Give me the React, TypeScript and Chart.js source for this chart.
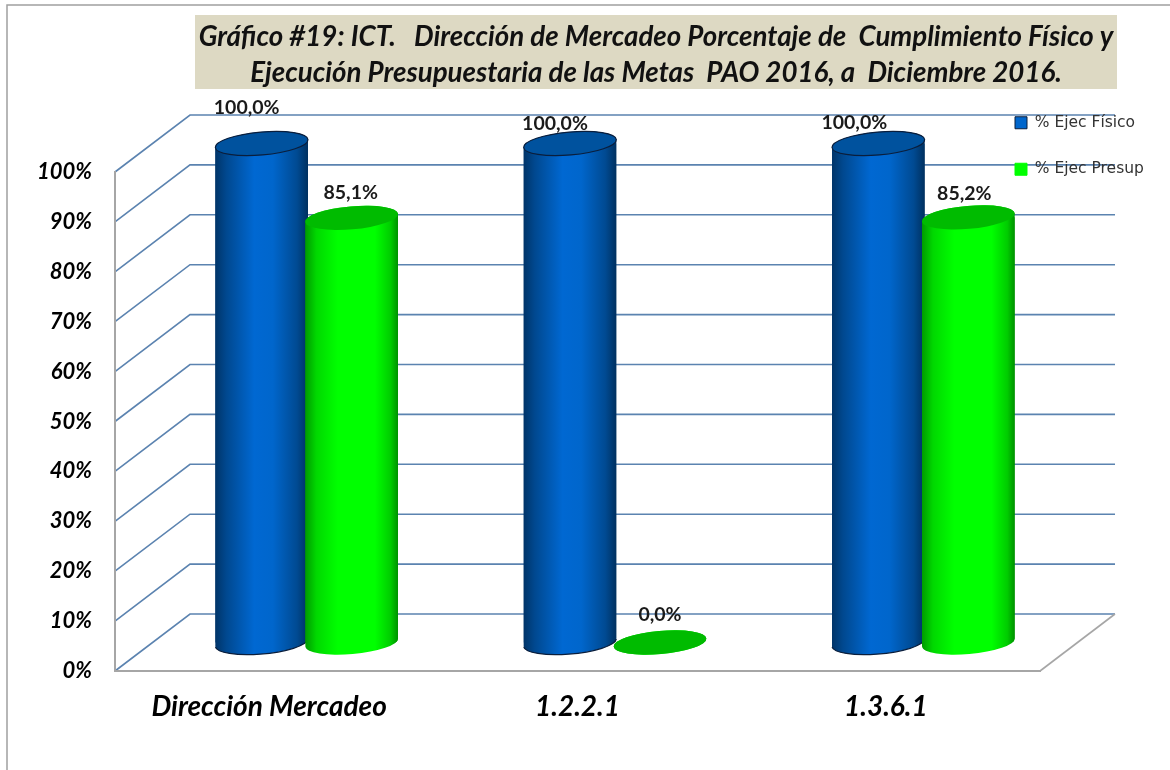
import React, { useEffect, useRef } from "react";
import { Chart, registerables } from "chart.js";

Chart.register(...registerables);

const categories = ["Dirección Mercadeo", "1.2.2.1", "1.3.6.1"];
const ejecFisico = [100, 100, 100];
const ejecPresup = [85.1, 0, 85.2];
const yTickStep = 10;
const titleLines = [
  "Gráfico #19: ICT.   Dirección de Mercadeo Porcentaje de  Cumplimiento Físico y",
  "Ejecución Presupuestaria de las Metas  PAO 2016, a  Diciembre 2016.",
];
const seriesNames = ["% Ejec Físico", "% Ejec Presup"];

const DEPTH_X = 75;
const DEPTH_Y = -57;
const CAT_PCT = 0.584;
const BAR_PCT = 1.033;
const CAP_RY = 11.5;
const CAP_TILT = (-5 * Math.PI) / 180;
const GRID = "#5B83B0";
const FRAME = "#A6A6A6";
const FONT = "Lato";

const barColors = ["#0066CC", "#00FF00"];
const capColors = ["#00529E", "#00BB00"];
const edgeStops = [
  [[0, "#003468"], [0.12, "#00488F"], [0.42, "#0068D2"], [0.62, "#0066CC"], [0.88, "#004A92"], [1, "#00305F"]],
  [[0, "#009A00"], [0.12, "#00D800"], [0.35, "#00FF00"], [0.75, "#00FF00"], [0.92, "#00CC00"], [1, "#009000"]],
];
// label nudges relative to the cap centre, one per bar
const labelDx = [[-15, -15, -24], [-1, 0, -4]];
const labelDy = [[-36, -20, -21], [-25, -28, -24]];

function barFill(ctx: any) {
  const i = ctx.datasetIndex;
  if (ctx.type !== "data") return barColors[i];
  const s = ctx.chart.scales.x;
  if (!s) return barColors[i];
  const step = ((s.getPixelForValue(1) - s.getPixelForValue(0)) * CAT_PCT) / 2;
  const cx = s.getPixelForValue(ctx.dataIndex) + (i - 0.5) * step;
  const w = (step * BAR_PCT) / 2;
  if (!Number.isFinite(cx) || !Number.isFinite(w)) return barColors[i];
  const g = ctx.chart.ctx.createLinearGradient(cx - w, 0, cx + w, 0);
  edgeStops[i].forEach(([p, c]: any) => g.addColorStop(p, c));
  return g;
}

const wallsPlugin = {
  id: "walls",
  afterLayout(chart: any) {
    const t = chart.titleBlock;
    t.left = 195;
    t.right = 1117;
    const l = chart.legend;
    const pad = l.options.labels.padding;
    const h = l.height;
    l.left = 1015 - pad;
    l.top = 115 - pad;
    l.right = 1170;
    l.bottom = l.top + h + 10;
  },
  beforeDraw(chart: any) {
    const { ctx, width, height, chartArea: a, scales } = chart;
    ctx.save();
    ctx.fillStyle = "#FFFFFF";
    ctx.fillRect(0, 0, width, height);
    // picture frame
    ctx.strokeStyle = "#A0A0A0";
    ctx.lineWidth = 1.5;
    ctx.beginPath();
    ctx.moveTo(7, height);
    ctx.lineTo(7, 5);
    ctx.lineTo(width, 5);
    ctx.stroke();
    // title panel
    ctx.fillStyle = "#DDD9C3";
    ctx.fillRect(195, 15, 922, 74);
    // side wall and back wall grid
    ctx.strokeStyle = GRID;
    ctx.lineWidth = 1.6;
    scales.y.ticks.forEach((_: any, i: number) => {
      const y = scales.y.getPixelForTick(i);
      ctx.beginPath();
      ctx.moveTo(a.left, y);
      ctx.lineTo(a.left + DEPTH_X, y + DEPTH_Y);
      ctx.lineTo(a.right + DEPTH_X, y + DEPTH_Y);
      ctx.stroke();
    });
    // floor edge
    ctx.strokeStyle = FRAME;
    ctx.lineWidth = 1.6;
    ctx.beginPath();
    ctx.moveTo(a.right, a.bottom);
    ctx.lineTo(a.right + DEPTH_X, a.bottom + DEPTH_Y);
    ctx.stroke();
    ctx.restore();
  },
  beforeDatasetsDraw(chart: any) {
    const { ctx } = chart;
    const dx = DEPTH_X / 2;
    const dy = DEPTH_Y / 2;
    categories.forEach((_, index) => {
      [0, 1].forEach((ds) => {
        const el = chart.getDatasetMeta(ds).data[index];
        const { x, y, base, width } = el.getProps(["x", "y", "base", "width"], true);
        const rx = width / 2;
        const ex = rx * Math.cos(CAP_TILT);
        const ey = rx * Math.sin(CAP_TILT);
        ctx.save();
        ctx.translate(dx, dy);
        // body
        ctx.save();
        ctx.beginPath();
        ctx.ellipse(x, y, rx, CAP_RY, CAP_TILT, 0, Math.PI * 2);
        ctx.closePath();
        ctx.moveTo(x - ex, y - ey);
        ctx.lineTo(x + ex, y + ey);
        ctx.lineTo(x + ex, base + ey);
        ctx.lineTo(x - ex, base - ey);
        ctx.closePath();
        ctx.moveTo(x + rx * Math.cos(CAP_TILT), base + ey);
        ctx.ellipse(x, base, rx, CAP_RY, CAP_TILT, 0, Math.PI * 2);
        ctx.closePath();
        ctx.clip();
        ctx.fillStyle = el.options.backgroundColor;
        ctx.fillRect(x - rx - 2, y - CAP_RY - 6, width + 4, base - y + 2 * CAP_RY + 12);
        el.draw(ctx);
        ctx.restore();
        // underside edge
        if (ds === 0) {
          ctx.strokeStyle = "#0A1E3C";
          ctx.lineWidth = 1.3;
          ctx.beginPath();
          ctx.ellipse(x, base, rx, CAP_RY, CAP_TILT, 0.05, Math.PI - 0.05);
          ctx.stroke();
        }
        // cap
        ctx.fillStyle = capColors[ds];
        ctx.beginPath();
        ctx.ellipse(x, y, rx, CAP_RY, CAP_TILT, 0, Math.PI * 2);
        ctx.fill();
        if (ds === 0) {
          ctx.strokeStyle = "#0A1E3C";
          ctx.lineWidth = 1.2;
          ctx.stroke();
        }
        ctx.restore();
      });
    });
    // value labels
    ctx.save();
    ctx.font = `bold 19.5px ${FONT}`;
    ctx.fillStyle = "#1A1A1A";
    ctx.textAlign = "center";
    ctx.textBaseline = "middle";
    [ejecFisico, ejecPresup].forEach((vals, ds) => {
      vals.forEach((v, i) => {
        const el = chart.getDatasetMeta(ds).data[i];
        const { x, y } = el.getProps(["x", "y"], true);
        const txt = v.toFixed(1).replace(".", ",") + "%";
        ctx.fillText(txt, x + dx + labelDx[ds][i], y + dy + labelDy[ds][i]);
      });
    });
    ctx.restore();
    return false;
  },
};

export default function App() {
  const ref = useRef<HTMLCanvasElement>(null);
  useEffect(() => {
    const chart = new Chart(ref.current as any, {
      type: "bar",
      plugins: [wallsPlugin],
      data: {
        labels: categories,
        datasets: [
          { label: seriesNames[0], data: ejecFisico, backgroundColor: barFill, borderWidth: 0 },
          { label: seriesNames[1], data: ejecPresup, backgroundColor: barFill, borderWidth: 0 },
        ],
      },
      options: {
        responsive: false,
        animation: false,
        events: [],
        layout: { padding: { top: 15, left: 0, right: 130, bottom: 0 } },
        datasets: { bar: { categoryPercentage: CAT_PCT, barPercentage: BAR_PCT } },
        scales: {
          x: {
            grid: { display: false },
            border: { display: true, color: FRAME, width: 2 },
            afterFit(s: any) {
              s.height = 99;
            },
            ticks: {
              padding: 11,
              autoSkip: false,
              maxRotation: 0,
              color: "#000000",
              font: { family: FONT, size: 28, weight: "bold", style: "italic" },
            },
          },
          y: {
            min: 0,
            max: 100,
            grid: { display: false },
            border: { display: true, color: FRAME, width: 2 },
            afterFit(s: any) {
              s.width = 115;
            },
            ticks: {
              stepSize: yTickStep,
              padding: 15,
              color: "#000000",
              callback: (v: any) => `${v}%`,
              font: { family: FONT, size: 22, weight: "bold", style: "italic" },
            },
          },
        },
        plugins: {
          tooltip: { enabled: false },
          title: {
            display: true,
            text: titleLines,
            color: "#111111",
            padding: { top: 4, bottom: 81 },
            font: { family: FONT, size: 27.7, weight: "bold", style: "italic", lineHeight: 36 / 27.7 },
          },
          legend: {
            display: true,
            position: "chartArea",
            align: "start",
            labels: {
              boxWidth: 12,
              boxHeight: 12,
              padding: 31,
              color: "#333333",
              font: { family: "DejaVu Sans", size: 15.5 },
              generateLabels(c: any) {
                const base = (Chart.defaults.plugins.legend.labels as any).generateLabels(c);
                return base.map((it: any, i: number) => ({
                  ...it,
                  fillStyle: barColors[i],
                  strokeStyle: i === 0 ? "#0A1E3C" : barColors[i],
                  lineWidth: 1,
                }));
              },
            },
          },
        },
      } as any,
    });
    return () => chart.destroy();
  }, []);
  return (
    <div style={{ position: "absolute", left: 0, top: 0, width: 1170, height: 770 }}>
      <canvas ref={ref} width={1170} height={770} style={{ display: "block" }} />
    </div>
  );
}
